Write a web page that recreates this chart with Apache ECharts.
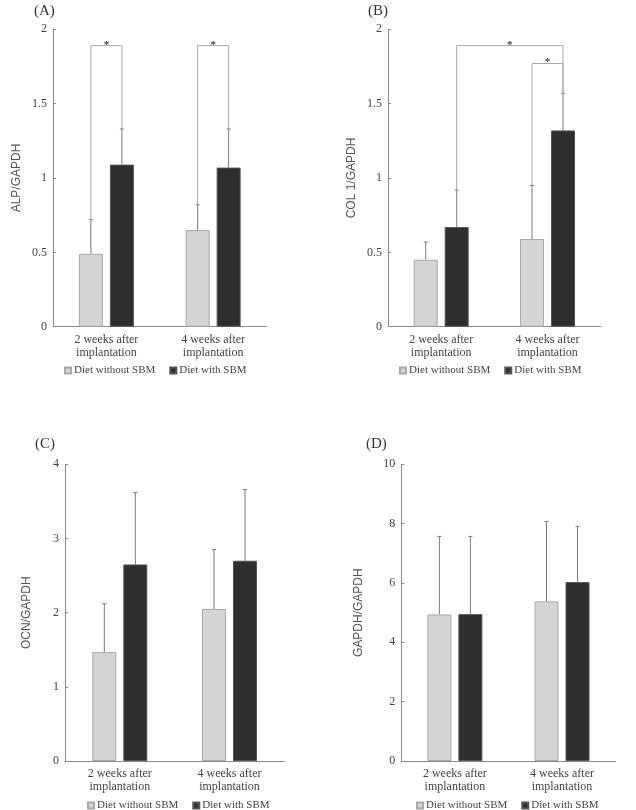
<!DOCTYPE html>
<html><head><meta charset="utf-8">
<script src="https://cdn.jsdelivr.net/npm/echarts@6/dist/echarts.min.js"></script>
<style>html,body{margin:0;padding:0;background:#fff}#c{width:636px;height:810px}</style>
</head><body><div id="c"></div>
<script>
const categories = ['2 weeks after\nimplantation', '4 weeks after\nimplantation'];
const seriesNames = ['Diet without SBM', 'Diet with SBM'];
const panelLabels = ['(A)', '(B)', '(C)', '(D)'];
const yTitles = ['ALP/GAPDH', 'COL 1/GAPDH', 'OCN/GAPDH', 'GAPDH/GAPDH'];
const yMax = [2, 2, 4, 10];
const yInterval = [0.5, 0.5, 1, 2];

// means and SD (upper error) per panel
const alpWithout = [0.49, 0.65];
const alpWith = [1.09, 1.07];
const alpWithoutSD = [0.23, 0.17];
const alpWithSD = [0.24, 0.26];

const colWithout = [0.45, 0.59];
const colWith = [0.67, 1.32];
const colWithoutSD = [0.12, 0.36];
const colWithSD = [0.25, 0.25];

const ocnWithout = [1.47, 2.05];
const ocnWith = [2.65, 2.70];
const ocnWithoutSD = [0.65, 0.80];
const ocnWithSD = [0.97, 0.96];

const gapdhWithout = [4.94, 5.38];
const gapdhWith = [4.95, 6.03];
const gapdhWithoutSD = [2.63, 2.69];
const gapdhWithSD = [2.62, 1.88];

// significance brackets: [cat1, series1, cat2, series2, level]
const bracketsA = [[0, 0, 0, 1, 1.89], [1, 0, 1, 1, 1.89]];
const bracketsB = [[0, 1, 1, 1, 1.89], [1, 0, 1, 1, 1.77]];

const panels = [
  {w: alpWithout, d: alpWith, ws: alpWithoutSD, ds: alpWithSD, br: bracketsA},
  {w: colWithout, d: colWith, ws: colWithoutSD, ds: colWithSD, br: bracketsB},
  {w: ocnWithout, d: ocnWith, ws: ocnWithoutSD, ds: ocnWithSD, br: []},
  {w: gapdhWithout, d: gapdhWith, ws: gapdhWithoutSD, ds: gapdhWithSD, br: []}
];

const grids = [
  {left: 53, top: 29.3, width: 213.5, height: 297.4},
  {left: 388, top: 29.3, width: 212.7, height: 297.4},
  {left: 65, top: 464.3, width: 219.3, height: 296.7},
  {left: 401.3, top: 464.3, width: 214.3, height: 296.7}
];
const nameGaps = [30, 30, 32, 37];
const labelPos = [[34, 10], [368, 10], [35, 443], [366, 443]];
const legendPos = [[59, 360], [394, 360], [82, 795], [411, 795]];

const BAR_W = 24, BAR_GAP = 7;
const OFF = (BAR_W + BAR_GAP) / 2;
const serif = 'Liberation Serif';
const axisColor = '#8a8a8a';
const lightFill = '#d4d4d4', darkFill = '#2e2e2e';

const option = {
  animation: false,
  backgroundColor: '#fff',
  grid: grids.map(g => Object.assign({containLabel: false}, g)),
  legend: legendPos.map(p => ({
    left: p[0], top: p[1], itemWidth: 6, itemHeight: 6, itemGap: 14,
    data: seriesNames, icon: 'rect', selectedMode: false,
    textStyle: {fontFamily: serif, fontSize: 11, color: '#444', padding: [0, 0, 0, -2]}
  })),
  xAxis: grids.map((g, i) => ({
    type: 'category', gridIndex: i, data: categories,
    axisLine: {lineStyle: {color: axisColor, width: 1}},
    axisTick: {inside: true, length: 4, lineStyle: {color: axisColor}},
    axisLabel: {fontFamily: serif, fontSize: 12, color: '#444', lineHeight: 12.5, margin: 7}
  })),
  yAxis: grids.map((g, i) => ({
    type: 'value', gridIndex: i, min: 0, max: yMax[i], interval: yInterval[i],
    name: yTitles[i], nameLocation: 'middle', nameRotate: 90, nameGap: nameGaps[i],
    nameTextStyle: {fontFamily: 'Liberation Sans', fontSize: 12, color: '#555'},
    splitLine: {show: false},
    axisLine: {show: true, lineStyle: {color: axisColor, width: 1}},
    axisTick: {show: true, inside: true, length: 3, lineStyle: {color: axisColor}},
    axisLabel: {fontFamily: serif, fontSize: 12, color: '#444', margin: 6}
  })),
  graphic: labelPos.map((p, i) => ({
    type: 'text', left: p[0], top: p[1] - 6,
    style: {text: panelLabels[i], font: '15px "Liberation Serif"', fill: '#333'}
  })),
  series: []
};

panels.forEach((p, i) => {
  option.series.push({
    name: seriesNames[0], type: 'bar', xAxisIndex: i, yAxisIndex: i,
    data: p.w, barWidth: BAR_W, barGap: (BAR_GAP / BAR_W * 100) + '%',
    itemStyle: {color: lightFill, borderColor: '#a8a8a8', borderWidth: 1}
  });
  option.series.push({
    name: seriesNames[1], type: 'bar', xAxisIndex: i, yAxisIndex: i,
    data: p.d, barWidth: BAR_W,
    itemStyle: {color: darkFill, borderColor: '#555', borderWidth: 1}
  });
  const errData = [];
  p.w.forEach((v, k) => errData.push([k, v, p.ws[k], 0]));
  p.d.forEach((v, k) => errData.push([k, v, p.ds[k], 1]));
  option.series.push({
    type: 'custom', xAxisIndex: i, yAxisIndex: i, data: errData, z: 1,
    encode: {x: 0, y: 1}, silent: true,
    renderItem: function (params, api) {
      const c0 = api.coord([api.value(0), api.value(1)]);
      const c1 = api.coord([api.value(0), api.value(1) + api.value(2)]);
      const x = c0[0] + (api.value(3) === 0 ? -OFF : OFF);
      const st = {stroke: '#7a7a7a', lineWidth: 1};
      return {type: 'group', children: [
        {type: 'line', shape: {x1: x, y1: c0[1], x2: x, y2: c1[1]}, style: st},
        {type: 'line', shape: {x1: x - 2, y1: c1[1], x2: x + 2, y2: c1[1]}, style: st}
      ]};
    }
  });
  if (p.br.length) {
    const means = [p.w, p.d], sds = [p.ws, p.ds];
    const brData = p.br.map(b => [b[0], b[1], b[2], b[3], b[4]]);
    option.series.push({
      type: 'custom', xAxisIndex: i, yAxisIndex: i, data: brData, z: 1,
      encode: {x: 0, y: 4}, silent: true,
      renderItem: function (params, api) {
        const c1 = api.value(0), s1 = api.value(1), c2 = api.value(2), s2 = api.value(3), lv = api.value(4);
        const y1 = means[s1][c1] + sds[s1][c1];
        const y2 = means[s2][c2] + sds[s2][c2];
        const a = api.coord([c1, y1]), b = api.coord([c2, y2]), t = api.coord([c1, lv]);
        const xa = a[0] + (s1 === 0 ? -OFF : OFF), xb = b[0] + (s2 === 0 ? -OFF : OFF);
        const st = {stroke: '#a8a8a8', lineWidth: 1, fill: null};
        return {type: 'group', children: [
          {type: 'polyline', shape: {points: [[xa, a[1]], [xa, t[1]], [xb, t[1]], [xb, b[1]]]}, style: st},
          {type: 'text', style: {text: '*', x: (xa + xb) / 2, y: t[1] - 1, textAlign: 'center', textVerticalAlign: 'middle',
            font: 'bold 11px "Liberation Serif"', fill: '#444'}}
        ]};
      }
    });
  }
});

const chart = echarts.init(document.getElementById('c'), null, {renderer: 'canvas'});
chart.setOption(option);
</script></body></html>
